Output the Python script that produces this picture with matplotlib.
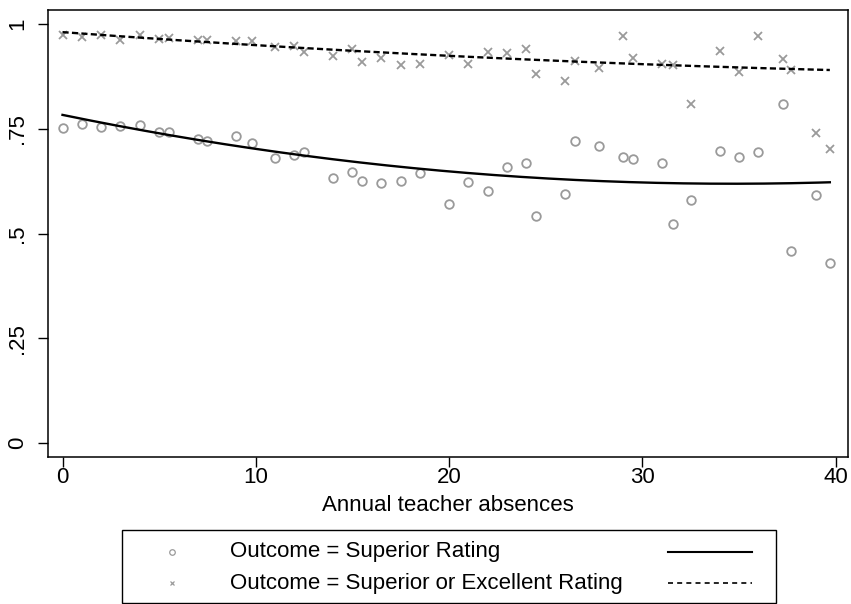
import numpy as np
import matplotlib
matplotlib.use("Agg")
import matplotlib.pyplot as plt
from matplotlib.lines import Line2D
from matplotlib.patches import Rectangle

plt.rcParams['font.family'] = ['Liberation Sans', 'DejaVu Sans']

absences = [0, 1, 2, 3, 4, 5, 5.5, 7, 7.5, 9, 9.8, 11, 12, 12.5, 14, 15, 15.5, 16.5,
            17.5, 18.5, 20, 21, 22, 23, 24, 24.5, 26, 26.5, 27.75, 29, 29.5, 31, 31.6,
            32.5, 34, 35, 36, 37.3, 37.7, 39, 39.7]
superior = [0.753, 0.761, 0.754, 0.757, 0.759, 0.743, 0.742, 0.726, 0.722, 0.732, 0.717,
            0.681, 0.687, 0.694, 0.632, 0.648, 0.625, 0.620, 0.625, 0.644, 0.570, 0.622,
            0.601, 0.659, 0.669, 0.543, 0.594, 0.721, 0.710, 0.682, 0.679, 0.669, 0.523,
            0.581, 0.698, 0.682, 0.694, 0.810, 0.459, 0.591, 0.431]
sup_or_exc = [0.973, 0.969, 0.973, 0.963, 0.973, 0.965, 0.967, 0.963, 0.963, 0.959, 0.959,
              0.945, 0.947, 0.934, 0.924, 0.940, 0.909, 0.919, 0.903, 0.905, 0.926, 0.904,
              0.934, 0.930, 0.940, 0.881, 0.865, 0.912, 0.894, 0.971, 0.920, 0.904, 0.903,
              0.810, 0.936, 0.885, 0.971, 0.917, 0.890, 0.739, 0.701]
# quadratic-fit curves, values at a few x positions
fit_sup_x = [0, 4.6, 15, 19.1, 29.5, 39.7]
fit_sup_y = [0.785, 0.741, 0.670, 0.652, 0.626, 0.621]
fit_exc_x = [0, 7.46, 12.3, 20, 26.8, 31.3, 39.7]
fit_exc_y = [0.979, 0.960, 0.942, 0.926, 0.906, 0.903, 0.891]

xticks = [0, 10, 20, 30, 40]
yticks = [0, 0.25, 0.5, 0.75, 1]
yticklabels = ['0', '.25', '.5', '.75', '1']
labels = ['Outcome = Superior Rating', 'Outcome = Superior or Excellent Rating']
xlabel = 'Annual teacher absences'

W, H = 851, 604
fig = plt.figure(figsize=(W / 100, H / 100), dpi=100)
L, R, T, B = 47.7, 848, 10, 456.7
ax = fig.add_axes([L / W, (H - B) / H, (R - L) / W, (B - T) / H])

gray = '#9a9a9a'
fs = 16

x = np.array(absences)
ax.plot(x, superior, linestyle='none', marker='o', markersize=6.2, markerfacecolor='none',
        markeredgecolor=gray, markeredgewidth=1.3)
ax.plot(x, sup_or_exc, linestyle='none', marker='x', markersize=5.2,
        markeredgecolor=gray, markeredgewidth=1.3)

xs = np.linspace(x.min(), x.max(), 200)
c1 = np.polyfit(fit_sup_x, fit_sup_y, 2)
c2 = np.polyfit(fit_exc_x, fit_exc_y, 2)
ax.plot(xs, np.polyval(c1, xs), color='black', lw=1.7)
ax.plot(xs, np.polyval(c2, xs), color='black', lw=1.7, dashes=(2.6, 1.4))

ax.set_xlim(-0.766, 40.64)
ax.set_ylim(-0.032, 1.0334)
ax.set_xticks(xticks)
ax.set_xticklabels([str(t) for t in xticks])
ax.set_yticks(yticks)
ax.set_yticklabels(yticklabels)
ax.tick_params(axis='both', direction='out', length=7, width=1.0, labelsize=fs, color='black')
ax.tick_params(axis='x', pad=0.5)
ax.tick_params(axis='y', pad=7, labelrotation=90)
for lab in ax.get_yticklabels():
    lab.set_va('center')
for s in ax.spines.values():
    s.set_linewidth(1.1)
ax.set_xlabel(xlabel, fontsize=fs, labelpad=5)

# legend box (drawn manually in figure pixel coordinates)
def fx(px):
    return px / W

def fy(py):
    return (H - py) / H

fig.patches.append(Rectangle((fx(122), fy(602.5)), fx(776) - fx(122), fy(530) - fy(602.5),
                             transform=fig.transFigure, fill=False, edgecolor='black', lw=1.0))
rows = [551.5, 583]
fig.lines.append(Line2D([fx(172)], [fy(rows[0])], transform=fig.transFigure, marker='o',
                        markersize=4, markerfacecolor='none', markeredgecolor=gray,
                        markeredgewidth=0.9, linestyle='none'))
fig.lines.append(Line2D([fx(172)], [fy(rows[1])], transform=fig.transFigure, marker='x',
                        markersize=3.5, markeredgecolor=gray, markeredgewidth=0.9,
                        linestyle='none'))
fig.lines.append(Line2D([fx(668), fx(752)], [fy(rows[0]), fy(rows[0])],
                        transform=fig.transFigure, color='black', lw=1.5))
fig.lines.append(Line2D([fx(668), fx(752)], [fy(rows[1]), fy(rows[1])],
                        transform=fig.transFigure, color='black', lw=1.2, dashes=(3.0, 2.5)))
for lab, r in zip(labels, rows):
    fig.text(fx(230), fy(r), lab, fontsize=fs, ha='left', va='center')

fig.savefig('out.png', dpi=100)
